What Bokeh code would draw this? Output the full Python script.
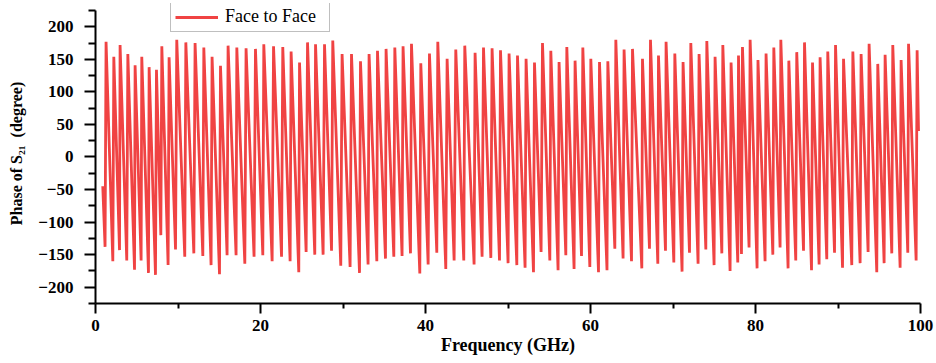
from bokeh.plotting import figure
from bokeh.models import Range1d, FixedTicker, Legend, LegendItem
from bokeh.embed import file_html
from bokeh.resources import INLINE

# Phase of S21 sampled at the start, then alternating trough / peak of each wrap, then end
freq_ghz = [
    0.88,
    1.16, 1.28, 2.10, 2.22, 2.91, 2.98, 3.79, 3.92, 4.73, 4.80,
    5.53, 5.61, 6.42, 6.50, 7.27, 7.39, 7.92, 8.04, 8.80, 8.92,
    9.70, 9.85, 10.82, 10.95, 11.92, 12.07, 13.01, 13.13, 14.01, 14.13,
    15.03, 15.15, 15.95, 16.07, 17.04, 17.13, 18.10, 18.25, 19.22, 19.39,
    20.28, 20.40, 21.41, 21.58, 22.55, 22.70, 23.59, 23.71, 24.64, 24.73,
    25.53, 25.70, 26.58, 26.67, 27.59, 27.76, 28.61, 28.76, 29.73, 29.89,
    30.86, 31.03, 32.00, 32.12, 33.04, 33.16, 34.10, 34.18, 35.15, 35.22,
    36.16, 36.28, 37.16, 37.28, 38.18, 38.30, 39.31, 39.43, 40.32, 40.48,
    41.37, 41.49, 42.46, 42.62, 43.47, 43.67, 44.64, 44.76, 45.89, 46.01,
    46.86, 47.03, 47.92, 48.07, 48.97, 49.09, 50.01, 50.13, 51.07, 51.15,
    52.07, 52.19, 53.09, 53.21, 54.01, 54.18, 55.07, 55.19, 56.07, 56.19,
    57.01, 57.13, 58.01, 58.13, 58.91, 59.07, 59.92, 60.04, 60.97, 61.09,
    62.00, 62.10, 62.95, 63.07, 63.95, 64.07, 64.97, 65.09, 66.22, 66.30,
    67.15, 67.27, 68.16, 68.24, 69.09, 69.16, 70.10, 70.22, 71.10, 71.22,
    72.00, 72.16, 73.04, 73.16, 73.98, 74.10, 74.98, 75.10, 75.92, 76.04,
    76.92, 77.04, 77.85, 77.94, 78.30, 78.42, 79.22, 79.35, 80.19, 80.30,
    81.16, 81.28, 82.10, 82.22, 82.98, 83.07, 83.95, 84.04, 84.88, 85.00,
    85.82, 85.94, 86.79, 86.91, 87.71, 87.83, 88.64, 88.76, 89.58, 89.70,
    90.55, 90.67, 91.67, 91.80, 92.68, 92.80, 93.65, 93.77, 94.70, 94.82,
    95.59, 95.71, 96.52, 96.64, 97.53, 97.65, 98.46, 98.55, 99.47, 99.59,
    99.76,
]
phase_deg = [
    -45,
    -138, 177, -160, 154, -143, 172, -159, 158, -173, 141,
    -159, 154, -178, 138, -181, 134, -120, 170, -166, 153,
    -142, 180, -153, 176, -148, 175, -152, 168, -166, 154,
    -180, 140, -151, 171, -151, 168, -164, 167, -153, 166,
    -151, 173, -160, 170, -153, 169, -160, 162, -177, 145,
    -146, 176, -150, 173, -150, 173, -144, 179, -167, 158,
    -169, 158, -178, 147, -165, 158, -160, 163, -156, 166,
    -153, 168, -152, 170, -148, 174, -179, 144, -165, 159,
    -147, 177, -172, 151, -159, 165, -159, 171, -165, 160,
    -153, 168, -155, 167, -159, 164, -163, 159, -166, 156,
    -170, 151, -177, 145, -146, 175, -159, 163, -174, 146,
    -151, 169, -172, 148, -152, 168, -169, 151, -177, 146,
    -174, 147, -141, 180, -156, 165, -160, 166, -171, 151,
    -141, 180, -164, 156, -144, 177, -162, 159, -176, 146,
    -147, 175, -164, 158, -142, 178, -166, 154, -148, 172,
    -175, 145, -162, 156, -149, 169, -139, 180, -171, 149,
    -160, 159, -150, 168, -139, 180, -171, 148, -159, 161,
    -144, 176, -174, 145, -165, 153, -157, 162, -147, 172,
    -170, 151, -166, 162, -163, 158, -146, 174, -177, 143,
    -163, 157, -148, 172, -170, 149, -147, 174, -159, 164,
    40,
]
series_label = "Face to Face"
x_ticks = [0, 20, 40, 60, 80, 100]
y_ticks = [-200, -150, -100, -50, 0, 50, 100, 150, 200]
x_label = "Frequency (GHz)"
y_label = "Phase of S\u2082\u2081\u00a0 (degree)"

RED = "#F04343"
FONT = "Liberation Serif"

# y axis line runs from -225 to 225; the frame extends a little higher so the
# legend (which overhangs the top of the axis) is not clipped
Y_LO, Y_HI, Y_FRAME_TOP = -225, 225, 235.75

p = figure(width=936, height=363, output_backend="svg", toolbar_location=None,
           x_range=Range1d(0, 100), y_range=Range1d(Y_LO, Y_FRAME_TOP),
           min_border_left=95, min_border_right=16, min_border_top=3,
           min_border_bottom=60)
p.outline_line_color = None
p.xgrid.visible = False
p.ygrid.visible = False
p.background_fill_color = "white"
p.border_fill_color = "white"

r = p.line(freq_ghz, phase_deg, line_color=RED, line_width=2.8)

x_minor = [(a + b) / 2 for a, b in zip(x_ticks[:-1], x_ticks[1:])]
y_step = y_ticks[1] - y_ticks[0]
y_minor = [(a + b) / 2 for a, b in zip(y_ticks[:-1], y_ticks[1:])]
y_minor = [y_ticks[0] - y_step / 2] + y_minor + [y_ticks[-1] + y_step / 2]
p.xaxis.ticker = FixedTicker(ticks=x_ticks, minor_ticks=x_minor)
p.yaxis.ticker = FixedTicker(ticks=y_ticks, minor_ticks=y_minor)

for ax in (p.xaxis[0], p.yaxis[0]):
    ax.axis_line_color = "black"
    ax.axis_line_width = 2
    ax.major_tick_line_color = "black"
    ax.minor_tick_line_color = "black"
    ax.major_tick_line_width = 2
    ax.minor_tick_line_width = 2
    ax.major_tick_in = 0
    ax.minor_tick_in = 0
    ax.major_label_text_font = FONT
    ax.major_label_text_font_style = "bold"
    ax.major_label_text_font_size = "17px"
    ax.major_label_text_color = "black"
    ax.axis_label_text_font = FONT
    ax.axis_label_text_font_style = "bold"
    ax.axis_label_text_color = "black"

xa = p.xaxis[0]
xa.axis_label = x_label
xa.axis_label_text_font_size = "18px"
xa.major_tick_out = 10
xa.minor_tick_out = 5
xa.major_label_standoff = 6
xa.axis_label_standoff = 1

ya = p.yaxis[0]
ya.axis_label = y_label
ya.axis_label_text_font_size = "16px"
ya.major_tick_out = 11
ya.minor_tick_out = 7
ya.major_label_standoff = 11
ya.axis_label_standoff = 10
ya.bounds = (Y_LO, Y_HI)

legend = Legend(items=[LegendItem(label=series_label, renderers=[r])],
                location=(75, 271), orientation="vertical",
                border_line_color="#7f7f7f", border_line_width=1,
                background_fill_color="white", background_fill_alpha=1,
                padding=4, margin=0, spacing=0,
                glyph_width=43, glyph_height=16, label_standoff=7,
                label_height=16, label_width=100,
                label_text_font=FONT, label_text_font_size="18px",
                label_text_color="black")
p.add_layout(legend, "center")

open("out.html", "w").write(file_html(p, INLINE))
